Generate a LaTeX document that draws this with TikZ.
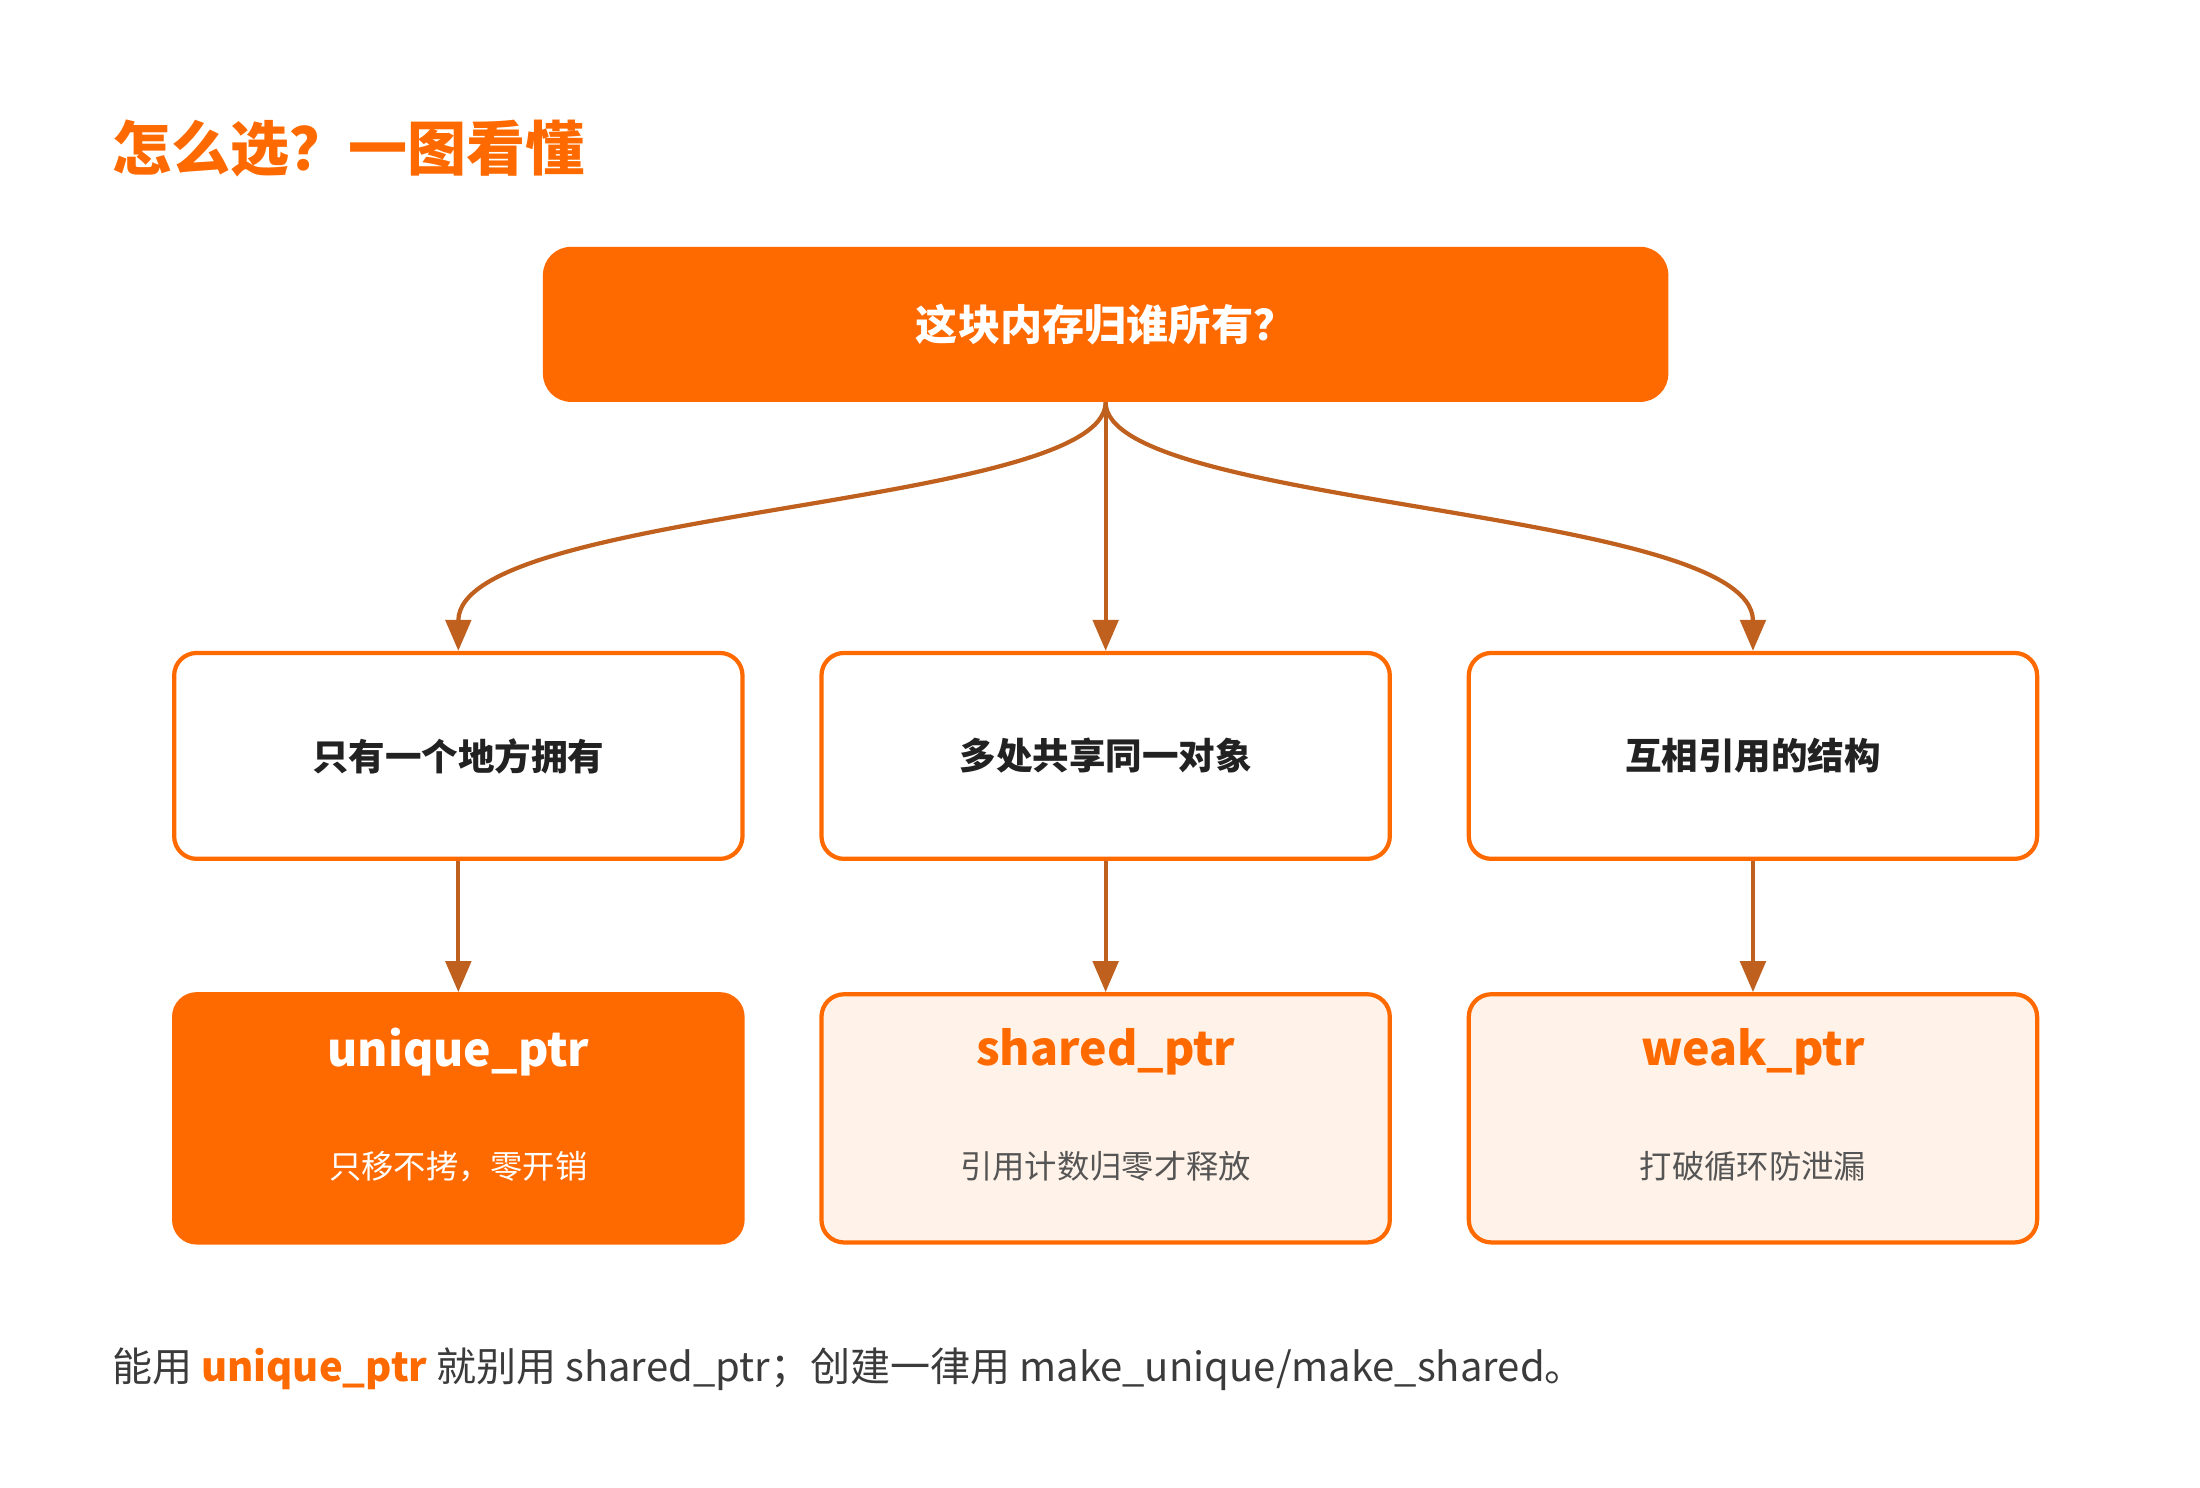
\documentclass[tikz,border=0pt]{standalone}
\usepackage{fontspec}
\setmainfont{Noto Sans CJK SC}
\usetikzlibrary{arrows.meta}
\definecolor{org}{HTML}{FF6A00}
\definecolor{arr}{HTML}{C0601F}
\definecolor{light}{HTML}{FFF2E8}
\definecolor{dark}{HTML}{222222}
\definecolor{gray}{HTML}{555555}
\begin{document}
\begin{tikzpicture}[x=1bp,y=-1bp,
  box/.style={draw=org,line width=3bp,rounded corners=16bp,minimum width=403bp,minimum height=146bp,fill=white,text=dark,font=\bfseries\fontsize{26}{30}\selectfont},
  res/.style={draw=org,line width=3bp,rounded corners=16bp,minimum width=403bp,minimum height=176bp,fill=light},
  con/.style={draw=arr,line width=3bp,-{Triangle[length=22bp,width=18bp]}},
  nm/.style={font=\bfseries\fontsize{33}{38}\selectfont},
  sub/.style={font=\fontsize{23}{28}\selectfont}]
\useasboundingbox (0,0) rectangle (1560,1055);
\node[anchor=west,text=org,font=\bfseries\fontsize{42}{50}\selectfont] (title) at (76,105) {怎么选？一图看懂};
\node[fill=org,rounded corners=20bp,minimum width=798bp,minimum height=110bp,text=white,font=\bfseries\fontsize{30}{36}\selectfont] (q) at (784,230) {这块内存归谁所有？};
\node[box] (a) at (325,536) {只有一个地方拥有};
\node[box] (b) at (784,536) {多处共享同一对象};
\node[box] (c) at (1243,536) {互相引用的结构};
\node[res,fill=org] (ra) at (325,793) {};
\node[res] (rb) at (784,793) {};
\node[res] (rc) at (1243,793) {};
\node[nm,text=white] (na) at (325,746) {unique\_ptr};
\node[sub,text=white] (sa) at (325,827) {只移不拷，零开销};
\node[nm,text=org] (nb) at (784,746) {shared\_ptr};
\node[sub,text=gray] (sb) at (784,827) {引用计数归零才释放};
\node[nm,text=org] (nc) at (1243,746) {weak\_ptr};
\node[sub,text=gray] (sc) at (1243,827) {打破循环防泄漏};
\draw[con] (q.south) .. controls (784,360) and (325,360) .. (a.north);
\draw[con] (q.south) -- (b.north);
\draw[con] (q.south) .. controls (784,360) and (1243,360) .. (c.north);
\draw[con] (a) -- (ra);
\draw[con] (b) -- (rb);
\draw[con] (c) -- (rc);
\node[anchor=west,text=gray!70!black,font=\fontsize{28.5}{34}\selectfont] (note) at (76,971) {能用 \textcolor{org}{\bfseries unique\_ptr} 就别用 shared\_ptr；创建一律用 make\_unique/make\_shared。};
\end{tikzpicture}
\end{document}
